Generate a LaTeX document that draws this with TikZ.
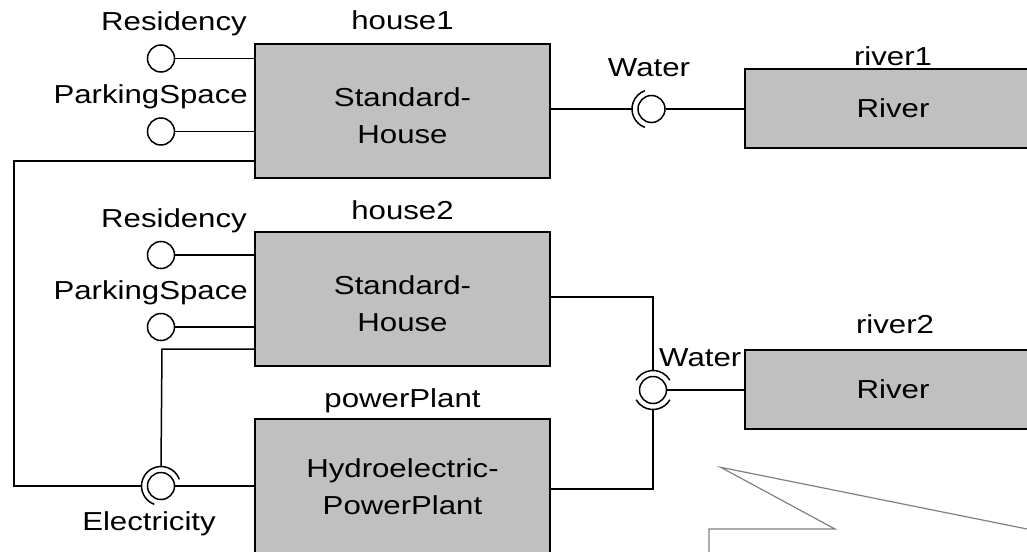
\documentclass[tikz,border=0pt]{standalone}
\usepackage{fontspec}
\setmainfont{Liberation Sans}[FakeStretch=1.2]
\usetikzlibrary{calc}
\definecolor{boxgray}{RGB}{192,192,192}
\definecolor{notegray}{RGB}{128,128,128}
\begin{document}
\begin{tikzpicture}[x=1pt,y=-1pt,
  font=\fontsize{26pt}{37pt}\selectfont,
  box/.style={draw=black,fill=boxgray,line width=1.6pt,minimum width=295pt,minimum height=134pt,inner sep=0pt},
  rbox/.style={draw=black,fill=boxgray,line width=1.6pt,minimum width=296pt,minimum height=79pt,inner sep=0pt},
  ball/.style={circle,draw=black,fill=white,line width=1.5pt,minimum size=27pt,inner sep=0pt},
  conn/.style={line width=1.5pt,draw=black},
  note/.style={line width=1.2pt,draw=notegray},
  boxtext/.style={align=center,inner sep=0pt},
  lbl/.style={inner sep=0pt}]
\useasboundingbox (0,0) rectangle (1027,551);
\clip (0,0) rectangle (1027,551);

% boxes
\node[box] (h1) at (402.5,111) {};
\node[box] (h2) at (402.5,299) {};
\node[box] (pp) at (402.5,486) {};
\node[rbox] (r1) at (893,108.5) {River};
\node[rbox] (r2) at (893,389.5) {River};
\node[boxtext] (h1t) at (402.5,116) {Standard-\\House};
\node[boxtext] (h2t) at (402.5,304) {Standard-\\House};
\node[boxtext] (ppt) at (402.5,487) {Hydroelectric-\\PowerPlant};

% instance labels
\node[lbl,anchor=base] (h1l) at (402.5,30) {house1};
\node[lbl,anchor=base] (h2l) at (402.5,219) {house2};
\node[lbl,anchor=base] (ppl) at (402.5,407) {powerPlant};
\node[lbl,anchor=base] (r1l) at (893,65) {river1};
\node[lbl,anchor=base] (r2l) at (895,333) {river2};

% provided interfaces on houses
\node[ball] (res1) at (161,58.5) {};
\node[ball] (park1) at (161,131.5) {};
\node[ball] (res2) at (161,255) {};
\node[ball] (park2) at (161,327) {};
\draw[conn] (res1.east) -- (res1 -| h1.west);
\draw[conn] (park1.east) -- (park1 -| h1.west);
\draw[conn] (res2.east) -- (res2 -| h2.west);
\draw[conn] (park2.east) -- (park2 -| h2.west);
\node[lbl,anchor=base east] (res1l) at (247,31) {Residency};
\node[lbl,anchor=base east] (park1l) at (248,103) {ParkingSpace};
\node[lbl,anchor=base east] (res2l) at (247,227) {Residency};
\node[lbl,anchor=base east] (park2l) at (248,299) {ParkingSpace};

% water 1
\node[ball] (w1) at (651.5,109) {};
\draw[conn] ($(w1.center)+(110:19.5)$) arc[start angle=110,end angle=250,radius=19.5];
\coordinate (w1s) at ($(w1.center)+(-19.5,0)$);
\draw[conn] (w1 -| h1.east) -- (w1s);
\draw[conn] (w1.east) -- (w1 -| r1.west);
\node[lbl,anchor=base] (w1l) at (649,76) {Water};

% water 2
\node[ball] (w2) at (653,390) {};
\draw[conn] ($(w2.center)+(210:19.5)$) arc[start angle=210,end angle=330,radius=19.5];
\draw[conn] ($(w2.center)+(30:19.5)$) arc[start angle=30,end angle=150,radius=19.5];
\coordinate (w2t) at ($(w2.center)+(0,-19.5)$);
\coordinate (w2b) at ($(w2.center)+(0,19.5)$);
\coordinate (w2c1) at (653,297);
\coordinate (w2c2) at (653,489);
\draw[conn] (w2c1 -| h2.east) -- (w2c1) -- (w2t);
\draw[conn] (w2b) -- (w2c2) -- (w2c2 -| pp.east);
\draw[conn] (w2.east) -- (w2 -| r2.west);
\node[lbl,anchor=base west] (w2l) at (659,366) {Water};

% electricity
\node[ball] (el) at (161,486) {};
\draw[conn] ($(el.center)+(110:19.5)$) arc[start angle=110,end angle=340,radius=19.5];
\coordinate (els) at ($(el.center)+(-19.5,0)$);
\coordinate (elt) at ($(el.center)+(0,-19.5)$);
\coordinate (ec1) at (14,161);
\coordinate (ec2) at (14,486);
\coordinate (ec3) at (162,349);
\draw[conn] (ec1 -| h1.west) -- (ec1) -- (ec2) -- (els);
\draw[conn] (ec3 -| h2.west) -- (ec3) -- (elt);
\draw[conn] (el.east) -- (el -| pp.west);
\node[lbl,anchor=base] (ell) at (149,530) {Electricity};

% note callout
\coordinate (ntip) at (720.7,467.3);
\coordinate (nl) at (709,529);
\coordinate (nm) at (835,529);
\coordinate (nr) at (1040,531.6);
\coordinate (nbot) at (709,560);
\draw[note,line join=miter] (nbot) -- (nl) -- (nm) -- (ntip) -- (nr);
\end{tikzpicture}
\end{document}
